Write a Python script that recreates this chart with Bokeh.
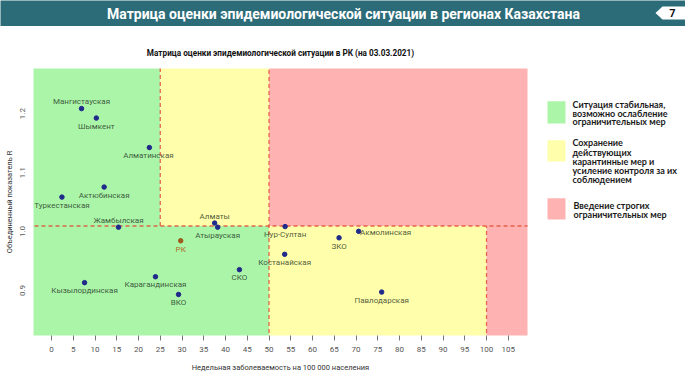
from bokeh.plotting import figure
from bokeh.models import Range1d, FixedTicker, ColumnDataSource, CustomJSTickFormatter
from bokeh.layouts import column, row
from bokeh.embed import file_html
from bokeh.resources import INLINE
from bokeh.core.properties import value

# ---------------- data ----------------
regions = ["Мангистауская", "Шымкент", "Алматинская", "Актюбинская", "Туркестанская",
           "Жамбылская", "Алматы", "Атырауская", "РК", "Кызылординская", "Карагандинская",
           "ВКО", "СКО", "Нур-Султан", "Костанайская", "ЗКО", "Акмолинская", "Павлодарская"]
incidence = [6.9, 10.3, 22.5, 12.1, 2.4, 15.4, 37.5, 38.2, 29.7, 7.6, 23.9,
             29.2, 43.2, 53.7, 53.6, 66.1, 70.6, 75.9]
r_value = [1.199, 1.183, 1.133, 1.066, 1.049, 0.998, 1.005, 0.998, 0.975, 0.904, 0.914,
           0.884, 0.926, 0.999, 0.952, 0.980, 0.991, 0.888]

# zones (incidence low/high, R low/high)
zone_x0 = [-20, -20, 25, 50, 50, 100]
zone_x1 = [25, 50, 50, 100, 200, 200]
zone_y0 = [1.0, 0.0, 1.0, 0.0, 1.0, 0.0]
zone_y1 = [2.0, 1.0, 2.0, 1.0, 2.0, 1.0]
zone_kind = ["green", "green", "yellow", "yellow", "red", "red"]

# threshold dashed lines
thr_x0 = [25, 50, -20, 100]
thr_x1 = [25, 50, 200, 100]
thr_y0 = [1.0, 0.0, 1.0, 0.0]
thr_y1 = [2.0, 2.0, 1.0, 1.0]

x_ticks = list(range(0, 110, 5))
y_ticks = [0.9, 1.0, 1.1, 1.2]

legend_texts = [
    ["Ситуация стабильная,", "возможно ослабление", "ограничительных мер"],
    ["Сохранение", "действующих", "карантинные мер и", "усиление контроля за их", "соблюдением"],
    ["Введение строгих", "ограничительных мер"],
]

main_title = "Матрица оценки эпидемиологической ситуации в регионах Казахстана"
chart_title = "Матрица оценки эпидемиологической ситуации в РК (на 03.03.2021)"
x_label = "Недельная заболеваемость на 100 000 населения"
y_label = "Объединенный показатель R"
page_no = "7"

# ---------------- styles ----------------
ZONE_COL = {"green": "#abf5a9", "yellow": "#ffffab", "red": "#ffb2b2"}
FONT = "Roboto"
TEAL = "#2c6c79"

# label offsets (screen px) per region
dx = [0, 0, -1, 0, 0, 0, 0, 0, 0, 0, 0, 0, 0, 0, 0, 0, 27, 0]
dy = [-7, 8, 8, 8, 8, -7, -7, 8, 9, 8, 8, 8, 8, 8, 8, 9, 1, 8]
pt_col = ["#9c5a1c" if n == "РК" else "#1f2a8a" for n in regions]
lb_col = ["#b0702a" if n == "РК" else "#1c301c" for n in regions]
lb_alpha = [1.0 if n == "РК" else 0.8 for n in regions]

# ---------------- header ----------------
hdr = figure(width=685, height=26, output_backend="svg", toolbar_location=None,
             x_range=Range1d(0, 685), y_range=Range1d(26, 0),
             min_border=0, background_fill_color=TEAL, border_fill_color=TEAL)
hdr.axis.visible = False
hdr.grid.visible = False
hdr.outline_line_color = None
hdr.text(x=[343], y=[13], text=[main_title], text_font=value(FONT),
         text_font_style="bold", text_font_size="14px", text_color="white",
         text_align="center", text_baseline="middle")
hdr.patch(x=[655, 662, 685, 685, 662], y=[12.5, 6, 6, 19, 19], fill_color="white", line_color=None)
hdr.text(x=[672], y=[12.8], text=[page_no], text_font=value(FONT), text_font_style="bold",
         text_font_size="11px", text_color="#111111", text_align="center", text_baseline="middle")

# ---------------- main chart ----------------
p = figure(width=537, height=350, output_backend="svg", toolbar_location=None,
           x_range=Range1d(-4.14, 109.42), y_range=Range1d(0.8144, 1.267),
           min_border_left=33, min_border_right=10, min_border_top=42, min_border_bottom=41,
           background_fill_color="white", border_fill_color="white")
p.outline_line_color = None
p.grid.visible = False

p.title.text = chart_title
p.title.align = "center"
p.title.text_font = FONT
p.title.text_font_size = "8.2px"
p.title.text_font_style = "bold"
p.title.text_color = "#111111"
p.title.standoff = 21

zsrc = ColumnDataSource(dict(l=zone_x0, r=zone_x1, b=zone_y0, t=zone_y1,
                             c=[ZONE_COL[k] for k in zone_kind]))
p.quad(left="l", right="r", bottom="b", top="t", fill_color="c", line_color=None, source=zsrc)
p.segment(x0=thr_x0, y0=thr_y0, x1=thr_x1, y1=thr_y1, line_color="#e2583f",
          line_width=1.3, line_dash="4 3", line_alpha=0.9)

src = ColumnDataSource(dict(x=incidence, y=r_value, name=regions, dx=dx, dy=dy,
                            pc=pt_col, lc=lb_col, la=lb_alpha))
p.scatter(x="x", y="y", source=src, size=4.5, fill_color="pc", line_color="pc")
p.text(x="x", y="y", text="name", source=src, x_offset="dx", y_offset="dy",
       text_font=value(FONT), text_font_size="8px", text_color="lc", text_alpha="la",
       text_align="center", text_baseline="middle")

xa = p.xaxis[0]
xa.ticker = FixedTicker(ticks=x_ticks)
xa.bounds = (0, 105)
xa.axis_line_color = None
xa.major_tick_line_color = "#777777"
xa.major_tick_in = 0
xa.major_tick_out = 5
xa.minor_tick_line_color = None
xa.major_label_standoff = 6
xa.major_label_text_font = FONT
xa.major_label_text_font_size = "8px"
xa.major_label_text_color = "#555555"
xa.axis_label = x_label
xa.axis_label_standoff = 8
xa.axis_label_text_font = FONT
xa.axis_label_text_font_size = "7.5px"
xa.axis_label_text_font_style = "normal"
xa.axis_label_text_color = "#333333"

ya = p.yaxis[0]
ya.ticker = FixedTicker(ticks=y_ticks)
ya.formatter = CustomJSTickFormatter(code="return tick.toFixed(1);")
ya.axis_line_color = None
ya.major_tick_line_color = None
ya.minor_tick_line_color = None
ya.major_tick_in = 0
ya.major_tick_out = 0
ya.major_label_orientation = 1.5708
ya.major_label_standoff = 11
ya.major_label_text_font = FONT
ya.major_label_text_font_size = "8px"
ya.major_label_text_color = "#555555"
ya.axis_label = y_label
ya.axis_label_standoff = 1
ya.axis_label_text_font = FONT
ya.axis_label_text_font_size = "7.5px"
ya.axis_label_text_font_style = "normal"
ya.axis_label_text_color = "#333333"

# ---------------- legend panel ----------------
lg = figure(width=148, height=350, output_backend="svg", toolbar_location=None,
            x_range=Range1d(537, 685), y_range=Range1d(376, 26), min_border=0,
            background_fill_color="white", border_fill_color="white")
lg.axis.visible = False
lg.grid.visible = False
lg.outline_line_color = None
sq_top = [69, 120, 196]
sq_bot = [98, 148, 224]
line_y = [[73, 84.5, 96], [123, 135.5, 148, 160, 172], [206, 218]]
lg.quad(left=[547, 547, 547], right=[565, 565, 565], top=sq_top, bottom=sq_bot,
        fill_color=[ZONE_COL["green"], ZONE_COL["yellow"], ZONE_COL["red"]], line_color=None)
tx, ty, tt = [], [], []
for i, lines in enumerate(legend_texts):
    for j, s in enumerate(lines):
        tx.append(573 if i == 2 else 572)
        ty.append(line_y[i][j])
        tt.append(s)
lg.text(x=tx, y=ty, text=tt, text_font=value("Lato"), text_font_style="bold",
        text_font_size="9px", text_color="#1a1a1a", text_align="left", text_baseline="middle")

layout = column(hdr, row(p, lg, spacing=0), spacing=0)
open("out.html", "w").write(file_html(layout, INLINE))
